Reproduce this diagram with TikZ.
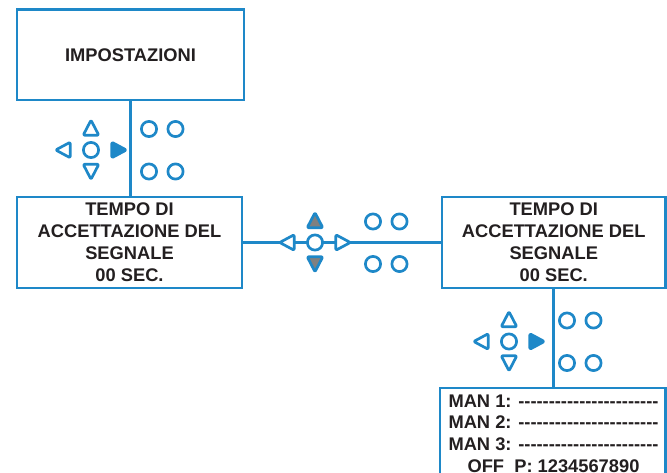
\documentclass[tikz,border=0pt]{standalone}
\usepackage{fontspec}
\setmainfont{Liberation Sans}
\definecolor{kblue}{RGB}{30,136,200}
\definecolor{ktext}{RGB}{35,31,32}
\definecolor{kgray}{RGB}{128,128,128}
\newcommand\hy{-\kern0pt}
\newcommand\dashrow{\hy\hy\hy\hy\hy\hy\hy\hy\hy\hy\hy\hy\hy\hy\hy\hy\hy\hy\hy\hy\hy\hy\hy}
\newcommand\kpad[5]{%
  \begin{scope}[shift={(#1,#2)}]
    \draw[#3] (0,-29.8) -- (7.8,-14.8) -- (-7.8,-14.8) -- cycle;
    \draw[#4] (0,29.3) -- (7.8,14.3) -- (-7.8,14.3) -- cycle;
    \draw[key] (-35.3,0) -- (-20.8,7.8) -- (-20.8,-7.8) -- cycle;
    \draw[#5] (35.3,0) -- (20.8,7.8) -- (20.8,-7.8) -- cycle;
    \draw[key] (0,0) circle (7.6);
    \draw[key] (58,-21) circle (7.6);
    \draw[key] (84.5,-21) circle (7.6);
    \draw[key] (58,21.5) circle (7.6);
    \draw[key] (84.5,21.5) circle (7.6);
  \end{scope}}
\begin{document}
\begin{tikzpicture}[x=1pt,y=-1pt,
  box/.style={draw=kblue, line width=2.8pt, fill=white, inner sep=0pt,
    font=\fontsize{18.3}{22}\selectfont\bfseries, text=ktext, align=center},
  txt/.style={inner sep=0pt, font=\fontsize{18.3}{21.7}\selectfont\bfseries, text=ktext, align=center},
  conn/.style={draw=kblue, line width=2.6pt},
  key/.style={draw=kblue, line width=2.7pt, line join=round, rounded corners=1.2pt, fill=white},
  keyfill/.style={key, fill=kblue},
  keygray/.style={key, fill=kgray}]
\useasboundingbox (0,0) rectangle (667,473);
\begin{scope}
\clip (0,0) rectangle (667,473);
\node[box, minimum width=227pt, minimum height=90.5pt] (b1) at (130.5,54.75) {IMPOSTAZIONI};
\node[box, minimum width=225pt, minimum height=91pt] (b2) at (129.5,242.5) {TEMPO DI\\ACCETTAZIONE DEL\\SEGNALE\\00 SEC.};
\node[box, minimum width=223.5pt, minimum height=91pt] (b3) at (553.75,242.5) {TEMPO DI\\ACCETTAZIONE DEL\\SEGNALE\\00 SEC.};
\node[box, minimum width=225.5pt, minimum height=112pt] (b4) at (552.75,444) {};
\node[txt, anchor=north] (t4) at (553.5,394.5) {MAN 1: \dashrow\\MAN 2: \dashrow\\MAN 3: \dashrow\\OFF\ \ P: 1234567890};
\draw[conn] (b1.south) -- (b1.south |- b2.north);
\draw[conn] (b3.south) -- (b3.south |- b4.north);
\draw[conn] (b2.east) -- (b3.west);
\kpad{91}{150}{key}{key}{keyfill}
\kpad{315}{242.5}{keygray}{keygray}{key}
\kpad{509}{341.5}{key}{key}{keyfill}
\end{scope}
\end{tikzpicture}
\end{document}
